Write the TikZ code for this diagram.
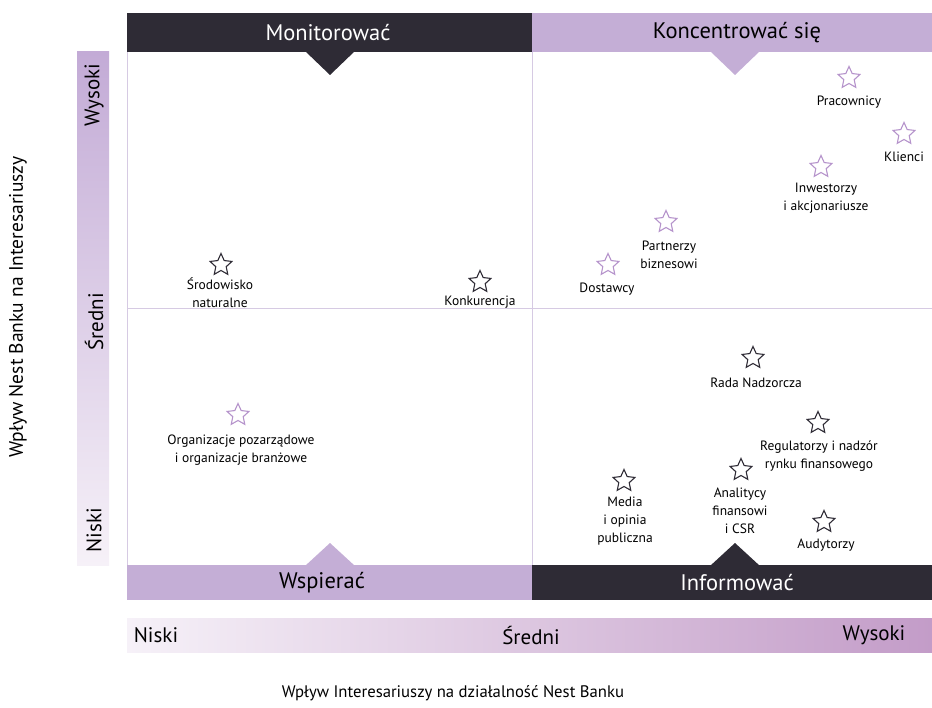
\documentclass[tikz,border=0pt]{standalone}
\usepackage{fontspec}
\setmainfont{PT Sans}
\usetikzlibrary{shapes.geometric}
\definecolor{darkbar}{HTML}{2E2B35}
\definecolor{purplebar}{HTML}{C4AED6}
\definecolor{gridline}{HTML}{D6CAE3}
\definecolor{starpurple}{HTML}{B593CB}
\definecolor{axtop}{HTML}{C3ABD6}
\definecolor{axbot}{HTML}{F6F1F8}
\definecolor{hbright}{HTML}{C39CC8}
\tikzset{
  stakeholder/.style={star, star points=5, star point ratio=2.1, minimum size=23pt, inner sep=0pt, draw=darkbar, line width=1.1pt},
  pstar/.style={stakeholder, draw=starpurple},
  lbl/.style={font=\fontsize{13.5}{18}\selectfont, align=center, text=black, inner sep=0pt},
  hdr/.style={font=\fontsize{22.5}{24}\selectfont, inner sep=0pt},
  axlbl/.style={font=\fontsize{21}{24}\selectfont, inner sep=0pt},
  ttl/.style={font=\fontsize{16.7}{20}\selectfont, inner sep=0pt},
}
\begin{document}
\begin{tikzpicture}[x=1pt,y=-1pt]
\useasboundingbox (0,0) rectangle (932,708);
% grid lines
\draw[gridline, line width=1pt] (127,52) -- (127,565);
\draw[gridline, line width=1pt] (532,52) -- (532,565);
\draw[gridline, line width=1pt] (127,309) -- (932,309);
% header bars
\fill[darkbar] (127,13) rectangle (532,52);
\fill[purplebar] (532,13) rectangle (932,52);
\fill[darkbar] (305,51) -- (355,51) -- (330,75) -- cycle;
\fill[purplebar] (710,51) -- (760,51) -- (735,75) -- cycle;
\node[hdr, text=white] (hMon) at (328,33) {Monitorować};
\node[hdr, text=black] (hKon) at (737,33) {Koncentrować się};
% footer bars
\fill[purplebar] (127,565) rectangle (532,600);
\fill[darkbar] (532,565) rectangle (932,600);
\fill[purplebar] (305,566) -- (355,566) -- (330,543) -- cycle;
\fill[darkbar] (710,566) -- (760,566) -- (735,543) -- cycle;
\node[hdr, text=black] (hWsp) at (322,583) {Wspierać};
\node[hdr, text=white] (hInf) at (737,583) {Informować};
% left axis bar
\shade[top color=axtop, bottom color=axbot] (77,52) rectangle (109,565);
\node[axlbl, rotate=90] (yHi) at (94,95) {Wysoki};
\node[axlbl, rotate=90] (yMid) at (94,322) {Średni};
\node[axlbl, rotate=90] (yLo) at (94,530) {Niski};
\node[rotate=90, inner sep=0pt, font=\fontsize{19.5}{22}\selectfont] (yTitle) at (18,307) {Wpływ Nest Banku na Interesariuszy};
% bottom axis bar
\shade[left color=axbot, right color=hbright] (127,618) rectangle (932,652);
\node[axlbl] (xLo) at (156,635) {Niski};
\node[axlbl] (xMid) at (531,635) {Średni};
\node[axlbl] (xHi) at (874,635) {Wysoki};
\node[ttl] (xTitle) at (453,693) {Wpływ Interesariuszy na działalność Nest Banku};
% stakeholders
\node[pstar] (sPra) at (849,78) {};
\node[lbl] (tPra) at (849,102) {Pracownicy};
\node[pstar] (sKli) at (904,134) {};
\node[lbl] (tKli) at (904,157) {Klienci};
\node[pstar] (sInw) at (821,167) {};
\node[lbl] (tInw) at (826,198) {Inwestorzy\\i akcjonariusze};
\node[pstar] (sPar) at (666,222) {};
\node[lbl] (tPar) at (669,255) {Partnerzy\\biznesowi};
\node[pstar] (sDos) at (608,265) {};
\node[lbl] (tDos) at (607,289) {Dostawcy};
\node[stakeholder] (sSro) at (221,265) {};
\node[lbl] (tSro) at (220,293) {Środowisko\\naturalne};
\node[stakeholder] (sKon) at (480,282) {};
\node[lbl] (tKon) at (480,302) {Konkurencja};
\node[pstar] (sOrg) at (238,415) {};
\node[lbl] (tOrg) at (241,450) {Organizacje pozarządowe\\i organizacje branżowe};
\node[stakeholder] (sRad) at (753,358) {};
\node[lbl] (tRad) at (756,383) {Rada Nadzorcza};
\node[stakeholder] (sReg) at (818,423) {};
\node[lbl] (tReg) at (819,456) {Regulatorzy i nadzór\\rynku finansowego};
\node[stakeholder] (sAna) at (741,470) {};
\node[lbl] (tAna) at (740,511) {Analitycy\\finansowi\\i CSR};
\node[stakeholder] (sMed) at (624,481) {};
\node[lbl] (tMed) at (625,521) {Media\\i opinia\\publiczna};
\node[stakeholder] (sAud) at (824,522) {};
\node[lbl] (tAud) at (826,545) {Audytorzy};
\end{tikzpicture}
\end{document}
